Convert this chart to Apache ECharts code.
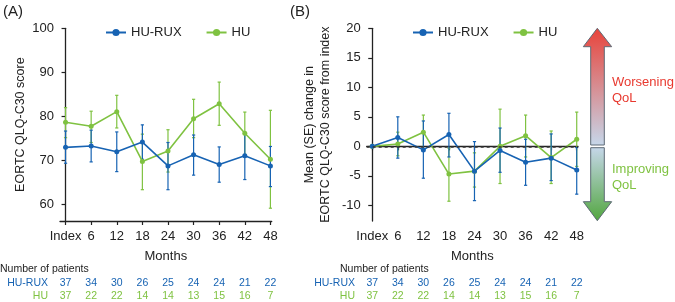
<!DOCTYPE html>
<html>
<head>
<meta charset="utf-8">
<script src="https://cdn.jsdelivr.net/npm/echarts@6/dist/echarts.min.js"></script>
<style>
  html, body { margin: 0; padding: 0; background: #fff; }
  #chart { width: 675px; height: 302px; }
</style>
</head>
<body>
<div id="chart"></div>
<script>
// months since index, and their tick labels
const months = [0, 6, 12, 18, 24, 30, 36, 42, 48];
const monthLabels = ['Index', '6', '12', '18', '24', '30', '36', '42', '48'];
const scoreTicks = [60, 70, 80, 90, 100];
const changeTicks = [-10, -5, 0, 5, 10, 15, 20];

// (A) EORTC QLQ-C30 score, mean and SE limits
const ruxScore = [73.0, 73.3, 72.0, 74.2, 68.8, 71.3, 69.1, 71.1, 68.8];
const ruxScoreLow = [69.4, 69.7, 67.5, 70.3, 63.4, 66.7, 65.1, 65.7, 64.1];
const ruxScoreHigh = [76.7, 76.9, 76.5, 78.1, 74.1, 75.8, 73.1, 76.3, 73.2];
const huScore = [78.7, 77.8, 81.1, 69.8, 72.2, 79.5, 82.9, 76.2, 70.3];
const huScoreLow = [75.2, 74.1, 77.4, 63.4, 67.4, 75.2, 78.0, 71.4, 59.2];
const huScoreHigh = [82.0, 81.2, 84.8, 76.0, 77.0, 83.9, 87.8, 81.0, 81.4];

// (B) change from index, mean and SE limits
const ruxChange = [0, 1.5, -0.6, 2.0, -4.2, -0.7, -2.7, -2.0, -4.0];
const ruxChangeLow = [0, -2.0, -5.4, -1.8, -9.2, -4.4, -6.6, -5.8, -8.1];
const ruxChangeHigh = [0, 5.0, 4.3, 5.6, 0.8, 3.1, 1.2, 2.1, -0.2];
const huChange = [0, 0.4, 2.4, -4.7, -4.2, 0, 1.8, -1.9, 1.2];
const huChangeLow = [0, -1.6, -0.5, -9.3, -6.9, -6.3, -1.8, -6.3, -3.4];
const huChangeHigh = [0, 2.4, 5.3, -0.3, -1.1, 6.3, 5.3, 2.6, 5.8];

// number of patients
const ruxPatients = [37, 34, 30, 26, 25, 24, 24, 21, 22];
const huPatients = [37, 22, 22, 14, 14, 13, 15, 16, 7];

const BLUE = '#1763b3';
const GREEN = '#7fc241';
const FONT = 'Liberation Sans';

const chart = echarts.init(document.getElementById('chart'));

const zip = (xs, ys) => xs.map((x, i) => [x, ys[i]]);
const zip3 = (xs, lo, hi) => xs.map((x, i) => [x, lo[i], hi[i]]);

function errorBars(name, color, idx, lo, hi) {
  return {
    name: name + ' SE',
    type: 'custom',
    xAxisIndex: idx,
    yAxisIndex: idx,
    silent: true,
    itemStyle: { color: color },
    data: zip3(months, lo, hi),
    renderItem: function (params, api) {
      const x = api.value(0);
      const p1 = api.coord([x, api.value(1)]);
      const p2 = api.coord([x, api.value(2)]);
      const w = 1.6;
      const style = { stroke: color, lineWidth: 1.2 };
      return {
        type: 'group',
        children: [
          { type: 'line', shape: { x1: p1[0], y1: p1[1], x2: p2[0], y2: p2[1] }, style: style },
          { type: 'line', shape: { x1: p1[0] - w, y1: p1[1], x2: p1[0] + w, y2: p1[1] }, style: style },
          { type: 'line', shape: { x1: p2[0] - w, y1: p2[1], x2: p2[0] + w, y2: p2[1] }, style: style }
        ]
      };
    }
  };
}

function meanLine(name, color, idx, vals, extra) {
  return Object.assign({
    name: name,
    type: 'line',
    xAxisIndex: idx,
    yAxisIndex: idx,
    data: zip(months, vals),
    symbol: 'circle',
    symbolSize: 5,
    color: color,
    lineStyle: { width: 1.6, color: color },
    itemStyle: { color: color },
    emphasis: { disabled: true }
  }, extra || {});
}

function monthAxis(grid) {
  return {
    type: 'value', gridIndex: grid, min: -1.3, max: 48.3,
    name: 'Months', nameLocation: 'middle', nameGap: 29,
    nameTextStyle: { fontFamily: FONT, fontSize: 13, color: '#222' },
    axisLine: { lineStyle: { color: '#222', width: 1.3 } },
    axisTick: { customValues: months, length: 4, lineStyle: { color: '#222', width: 1.2 } },
    axisLabel: {
      customValues: months, margin: 9,
      formatter: v => monthLabels[months.indexOf(v)],
      fontFamily: FONT, fontSize: 13, color: '#222'
    },
    splitLine: { show: false }
  };
}

function countAxis(grid, offset, counts, color) {
  return {
    type: 'value', gridIndex: grid, min: -1.3, max: 48.3, position: 'bottom', offset: offset,
    axisLine: { show: false }, axisTick: { show: false }, splitLine: { show: false },
    axisLabel: {
      customValues: months, margin: 0,
      formatter: v => String(counts[months.indexOf(v)]),
      fontFamily: FONT, fontSize: 10.5, color: color
    }
  };
}

function valueAxis(grid, min, max, ticks, name, gap) {
  return {
    type: 'value', gridIndex: grid, min: min, max: max,
    name: name, nameLocation: 'middle', nameGap: gap,
    nameTextStyle: { fontFamily: FONT, fontSize: 12.5, color: '#222', lineHeight: 16 },
    axisLine: { show: true, lineStyle: { color: '#222', width: 1.3 } },
    axisTick: { show: true, customValues: ticks, length: 4, lineStyle: { color: '#222', width: 1.2 } },
    axisLabel: { customValues: ticks, margin: 6, fontFamily: FONT, fontSize: 13, color: '#222' },
    splitLine: { show: false }
  };
}

function legendAt(left) {
  return {
    left: left, top: 21, itemWidth: 20, itemHeight: 9, itemGap: 24,
    data: ['HU-RUX', 'HU'],
    lineStyle: { width: 2 },
    textStyle: { fontFamily: FONT, fontSize: 13, color: '#222' }
  };
}

function arrow(points, top, bottom) {
  return {
    type: 'polygon',
    shape: { points: points },
    style: {
      stroke: '#5e6a76', lineWidth: 1,
      fill: new echarts.graphic.LinearGradient(0, 0, 0, 1, [
        { offset: 0, color: top }, { offset: 1, color: bottom }
      ])
    }
  };
}

function txt(x, y, text, size, color, align) {
  return {
    type: 'text', x: x, y: y,
    style: { text: text, fontFamily: FONT, fontSize: size, fill: color, align: align || 'left', verticalAlign: 'middle', lineHeight: 16 }
  };
}

const option = {
  animation: false,
  grid: [
    { left: 60, top: 28.3, width: 211.7, height: 193.4 },
    { left: 366.7, top: 28.3, width: 211.3, height: 193.4 }
  ],
  legend: [legendAt(100), legendAt(407)],
  xAxis: [
    monthAxis(0), monthAxis(1),
    countAxis(0, 57, ruxPatients, BLUE), countAxis(1, 57, ruxPatients, BLUE),
    countAxis(0, 70, huPatients, GREEN), countAxis(1, 70, huPatients, GREEN)
  ],
  yAxis: [
    valueAxis(0, 56.3, 100, scoreTicks, 'EORTC QLQ-C30 score', 31),
    valueAxis(1, -12.65, 20, changeTicks, 'Mean (SE) change in\nEORTC QLQ-C30 score from index', 33)
  ],
  series: [
    errorBars('HU', GREEN, 0, huScoreLow, huScoreHigh),
    errorBars('HU-RUX', BLUE, 0, ruxScoreLow, ruxScoreHigh),
    meanLine('HU', GREEN, 0, huScore),
    meanLine('HU-RUX', BLUE, 0, ruxScore),
    errorBars('HU', GREEN, 1, huChangeLow, huChangeHigh),
    errorBars('HU-RUX', BLUE, 1, ruxChangeLow, ruxChangeHigh),
    meanLine('HU', GREEN, 1, huChange, {
      markLine: {
        silent: true, symbol: 'none', label: { show: false },
        lineStyle: { color: '#333', type: [3, 3], width: 1.6 },
        data: [{ yAxis: 0 }]
      }
    }),
    meanLine('HU-RUX', BLUE, 1, ruxChange)
  ],
  graphic: [
    txt(3, 12, '(A)', 15, '#222'),
    txt(290, 12, '(B)', 15, '#222'),
    arrow([[597.3, 28.3], [611.7, 46.7], [604.3, 46.7], [604.3, 145], [590.7, 145], [590.7, 46.7], [583.3, 46.7]], '#e8433a', '#c6d7ea'),
    arrow([[590.7, 147.7], [604.3, 147.7], [604.3, 201.7], [611.7, 201.7], [597.3, 220.7], [583.3, 201.7], [590.7, 201.7]], '#c6d7ea', '#52a63f'),
    txt(612, 90, 'Worsening\nQoL', 13, '#e8392f'),
    txt(612, 177, 'Improving\nQoL', 13, GREEN),
    txt(0, 269, 'Number of patients', 10.5, '#222'),
    txt(48, 283, 'HU-RUX', 10.5, BLUE, 'right'),
    txt(48, 296, 'HU', 10.5, GREEN, 'right'),
    txt(340, 269, 'Number of patients', 10.5, '#222'),
    txt(355, 283, 'HU-RUX', 10.5, BLUE, 'right'),
    txt(355, 296, 'HU', 10.5, GREEN, 'right')
  ]
};

chart.setOption(option);
</script>
</body>
</html>
